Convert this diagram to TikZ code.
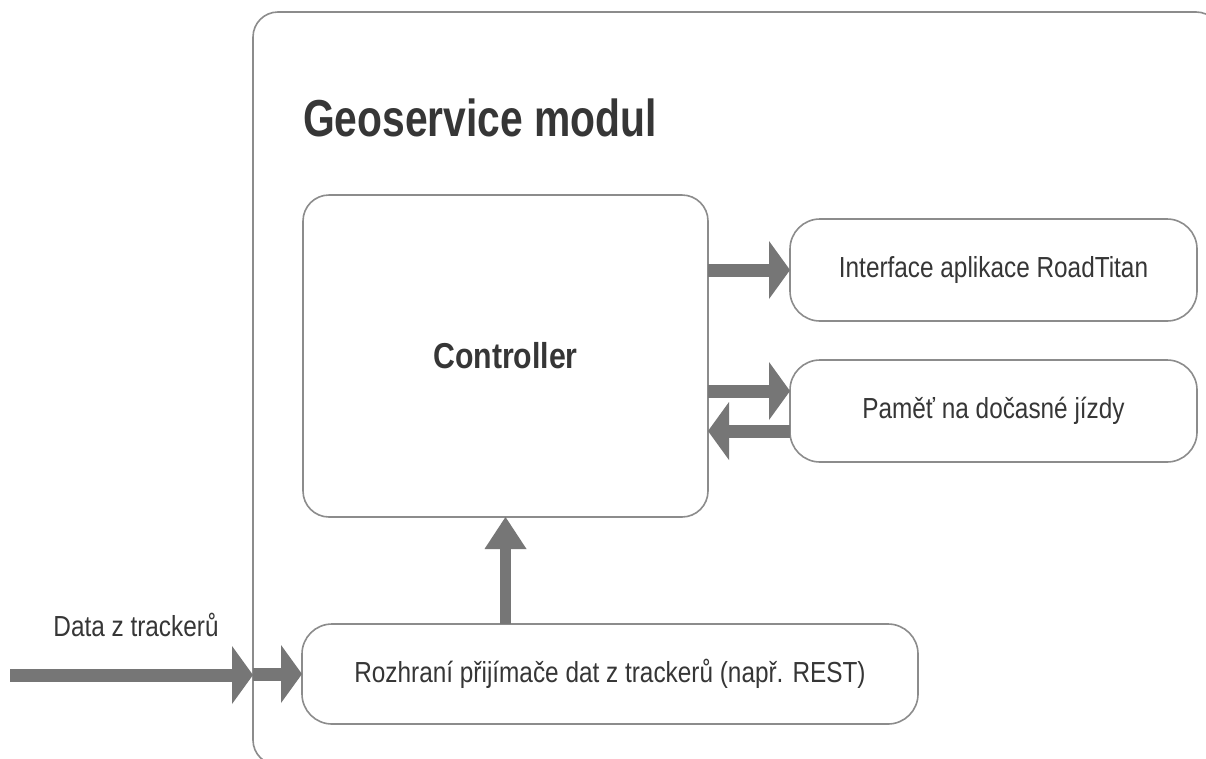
\documentclass[tikz,border=0pt]{standalone}
\usepackage{fontspec}
\setmainfont{Liberation Sans}[FakeStretch=0.84]
\newfontfamily\titlefont{Liberation Sans}[FakeStretch=0.785]
\usetikzlibrary{arrows.meta}
\definecolor{boxgray}{HTML}{8C8C8C}
\definecolor{arrowgray}{HTML}{767676}
\definecolor{txt}{HTML}{363636}
\tikzset{
  box/.style={draw=boxgray, line width=1.6pt, rounded corners=26pt, fill=white,
    anchor=north west, inner sep=0pt, outer sep=0pt, text=txt,
    font=\fontsize{29}{34}\selectfont},
  fat/.style={draw=arrowgray, line width=13pt,
    -{Triangle[width=58pt,length=21pt,line width=0pt]}},
  fatup/.style={draw=arrowgray, line width=11pt,
    -{Triangle[width=42pt,length=32pt,line width=0pt]}},
  label/.style={text=txt, inner sep=0pt, font=\fontsize{29}{34}\selectfont}
}
\begin{document}
\begin{tikzpicture}[x=1pt,y=-1pt]
  \useasboundingbox (0,0) rectangle (1206,758);
  \clip (0,0) rectangle (1206,758);
  \fill[white] (0,0) rectangle (1206,758);

  % module frame
  \node[box, rounded corners=25pt, minimum width=968pt, minimum height=753pt] (geo) at (253,12) {};
  \node[text=txt, anchor=west, inner sep=0pt, font=\titlefont\fontsize{52}{60}\selectfont\bfseries] (title) at (303,118) {Geoservice modul};

  % components
  \node[box, minimum width=405pt, minimum height=322pt, font=\fontsize{36}{42}\selectfont\bfseries] (ctrl) at (303,195) {Controller};
  \node[box, rounded corners=30pt, minimum width=407pt, minimum height=102pt] (iface) at (790,219) {Interface aplikace RoadTitan};
  \node[box, rounded corners=30pt, minimum width=407pt, minimum height=102pt] (mem) at (790,360) {Paměť na dočasné jízdy};
  \node[box, rounded corners=30pt, minimum width=616pt, minimum height=100pt] (rest) at (302,624) {Rozhraní přijímače dat z trackerů (např. REST)};

  % incoming data
  \coordinate (src) at (10,675);
  \node[label] (datalbl) at (136,625) {Data z trackerů};

  % data flow
  \draw[fat] (ctrl.east |- iface.west) -- (iface.west);
  \draw[fat] ([yshift=20pt]ctrl.east |- mem.west) -- ([yshift=20pt]mem.west);
  \draw[fat] ([yshift=-20pt]mem.west) -- ([yshift=-20pt]ctrl.east |- mem.west);
  \draw[fatup] (ctrl.south |- rest.north) -- (ctrl.south);
  \draw[fat] (src) -- (src -| geo.west);
  \draw[fat] (geo.west |- rest.west) -- (rest.west);
\end{tikzpicture}
\end{document}
